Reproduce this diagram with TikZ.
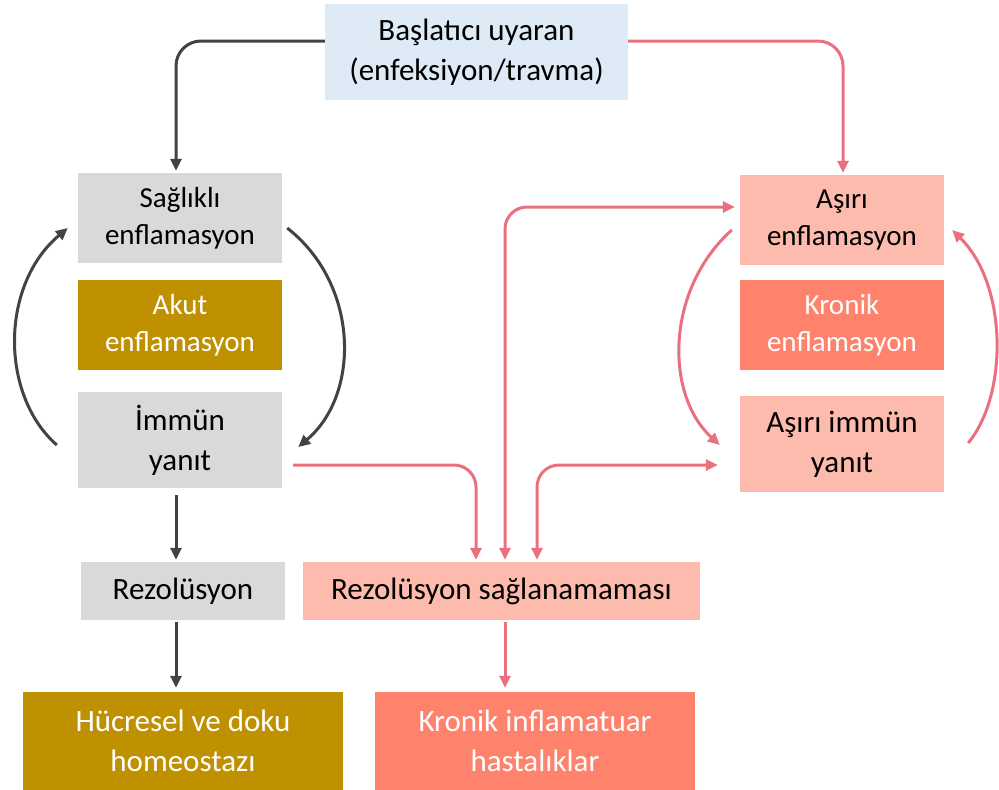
\documentclass[tikz,border=0pt]{standalone}
\usepackage{fontspec}
\setmainfont{Carlito}
\usetikzlibrary{arrows.meta,calc}
\definecolor{cblue}{HTML}{DEEBF7}
\definecolor{cgray}{HTML}{D9D9D9}
\definecolor{cgold}{HTML}{BF9000}
\definecolor{cpink}{HTML}{FDBBAE}
\definecolor{csalmon}{HTML}{FF826D}
\definecolor{adark}{HTML}{404448}
\definecolor{apink}{HTML}{E9717D}
\tikzset{
  box/.style={inner sep=0pt, align=center, text=black},
  big/.style={font=\fontsize{31}{40}\selectfont},
  small/.style={font=\fontsize{29}{37}\selectfont},
  darr/.style={draw=adark, line width=3pt, -{Triangle[length=12pt,width=11pt]}},
  parr/.style={draw=apink, line width=3pt, -{Triangle[length=12pt,width=11pt]}},
  pboth/.style={draw=apink, line width=3pt, {Triangle[length=12pt,width=11pt]}-{Triangle[length=12pt,width=11pt]}},
}
\begin{document}
\begin{tikzpicture}[x=1pt,y=-1pt]
\useasboundingbox (0,0) rectangle (999,790);
\node[box,big,fill=cblue,minimum width=303pt,minimum height=96pt] (top) at (476.5,52) {Başlatıcı uyaran\\(enfeksiyon/travma)};
\node[box,small,fill=cgray,minimum width=204pt,minimum height=90pt] (sag) at (180,218) {Sağlıklı\\enflamasyon};
\node[box,small,fill=cgold,text=white,minimum width=204pt,minimum height=90pt] (akut) at (180,325) {Akut\\enflamasyon};
\node[box,big,fill=cgray,minimum width=204pt,minimum height=96pt] (imm) at (180,440) {İmmün\\yanıt};
\node[box,big,fill=cgray,minimum width=204pt,minimum height=58pt] (rez) at (183,591) {Rezolüsyon};
\node[box,big,fill=cgold,text=white,minimum width=320pt,minimum height=98pt] (hom) at (183,741) {Hücresel ve doku\\homeostazı};
\node[box,big,fill=cpink,minimum width=397pt,minimum height=58pt] (rezs) at (501.5,591) {Rezolüsyon sağlanamaması};
\node[box,big,fill=csalmon,text=white,minimum width=320pt,minimum height=98pt] (kron) at (535,741) {Kronik inflamatuar\\hastalıklar};
\node[box,small,fill=cpink,minimum width=204pt,minimum height=90pt] (asiri) at (842,220) {Aşırı\\enflamasyon};
\node[box,small,fill=csalmon,text=white,minimum width=204pt,minimum height=90pt] (kenf) at (842,325) {Kronik\\enflamasyon};
\node[box,big,fill=cpink,minimum width=204pt,minimum height=96pt] (asimm) at (842,444) {Aşırı immün\\yanıt};

% top connectors
\draw[darr,rounded corners=25pt,shorten >=2pt] ([yshift=11pt]top.west) -| ([xshift=-4pt]sag.north);
\draw[parr,rounded corners=25pt,shorten >=2pt] ([yshift=11pt]top.east) -| ([xshift=1pt]asiri.north);

% left loop
\draw[darr] ([xshift=-21pt,yshift=-5pt]imm.west) .. controls (0,395) and (0,285) .. ([xshift=-10pt,yshift=-10pt]sag.west);
\draw[darr] ([xshift=5pt,yshift=-10pt]sag.east) .. controls (360,285) and (360,395) .. ([xshift=16pt,yshift=-7pt]imm.east);

% right loop
\draw[parr] ([xshift=-8pt,yshift=-10pt]asiri.west) .. controls (665,290) and (665,395) .. ([xshift=-20pt,yshift=-1pt]asimm.west);
\draw[parr] ([xshift=24pt,yshift=1pt]asimm.east) .. controls (1008,395) and (1008,285) .. ([xshift=8pt,yshift=-10pt]asiri.east);

% vertical left
\draw[darr,shorten <=7pt,shorten >=2pt] ([xshift=-4pt]imm.south) -- ([xshift=-4pt]imm.south |- rez.north);
\draw[darr,shorten <=2pt,shorten >=4pt] ([xshift=-7pt]rez.south) -- ([xshift=-7pt]rez.south |- hom.north);

% pink links
\draw[parr,rounded corners=22pt,shorten >=2pt] ([xshift=11pt,yshift=-25pt]imm.east) -| ([xshift=-25.5pt]rezs.north);
\draw[pboth,rounded corners=22pt,shorten <=2pt,shorten >=5pt] ([xshift=3.5pt]rezs.north) |- ([yshift=13pt]asiri.west);
\draw[pboth,rounded corners=22pt,shorten <=2pt,shorten >=22pt] ([xshift=35.5pt]rezs.north) |- ([yshift=-21pt]asimm.west);
\draw[parr,shorten <=2pt,shorten >=4pt] ([xshift=3.5pt]rezs.south) -- ([xshift=3.5pt]rezs.south |- kron.north);
\end{tikzpicture}
\end{document}
